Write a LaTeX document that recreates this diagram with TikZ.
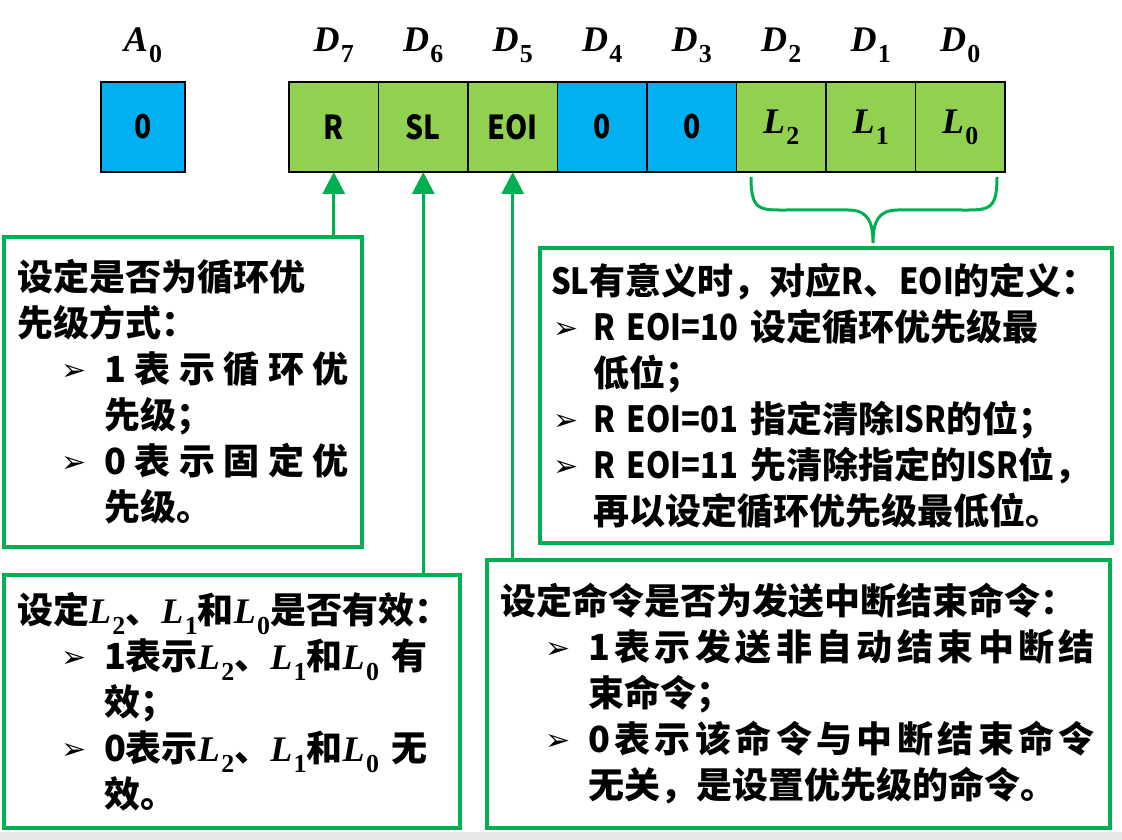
\documentclass[tikz,border=0pt]{standalone}
\usepackage{fontspec}
\usepackage{graphicx}
\usepackage{xcolor}
\setmainfont{Noto Sans CJK SC}
\newfontfamily\narfont{Noto Sans CJK SC}[FakeStretch=0.86]
\newfontfamily\bulfont{DejaVu Sans}
\newfontfamily\symfont{Liberation Serif}
\usetikzlibrary{positioning, arrows.meta}

\definecolor{regblue}{HTML}{00B0F0}
\definecolor{reggreen}{HTML}{92D050}
\definecolor{linegreen}{HTML}{00B050}

% bullet of a list line: indent, then room for the arrowhead
\newcommand{\bul}[2]{\hspace*{#1}\makebox[#2][l]{\raisebox{2pt}{\bulfont\fontsize{30}{30}\selectfont ➢}}}
\newcommand{\nar}[1]{{\narfont\bfseries #1}}
% bold italic bit name with subscript
\newcommand{\bv}[2]{{\symfont\bfseries\itshape #1\kern0.04em}{\symfont\bfseries\raisebox{-0.3em}{\scalebox{0.72}{#2}}}}

\begin{document}
\begin{tikzpicture}[x=1pt, y=1pt, node distance=89.5pt,
  cell/.style={draw, line width=1.2pt, minimum width=89.5pt, minimum height=90pt, inner sep=0pt, outer sep=0pt, font=\fontsize{33}{33}\selectfont\narfont\bfseries},
  lcell/.style={cell, font=\fontsize{36}{36}\selectfont},
  bitlabel/.style={font=\fontsize{36}{36}\selectfont},
  infobox/.style={draw=linegreen, line width=3.5pt, anchor=north west, align=left, outer sep=0pt, inner ysep=0pt, font=\fontsize{36}{46}\selectfont\bfseries},
  pointer/.style={-{Triangle[width=22pt, length=22pt]}, draw=linegreen, line width=3pt}]

	\useasboundingbox (0,0) rectangle (1122,840);
	\fill[gray!18] (0,0) rectangle (1122,8);

	% control word
	\node (a0) [cell, fill=regblue, minimum width=84pt] at (143,713) {0};
	\node (c7) [cell, fill=reggreen] at (333.75,713) {R};
	\node (c6) [cell, fill=reggreen, right of=c7] {SL};
	\node (c5) [cell, fill=reggreen, right of=c6] {EOI};
	\node (c4) [cell, fill=regblue, right of=c5] {0};
	\node (c3) [cell, fill=regblue, right of=c4] {0};
	\node (c2) [lcell, fill=reggreen, right of=c3] {\bv{L}{2}};
	\node (c1) [lcell, fill=reggreen, right of=c2] {\bv{L}{1}};
	\node (c0) [lcell, fill=reggreen, right of=c1] {\bv{L}{0}};

	\node (la0) [bitlabel, above of=a0, node distance=82pt] {\bv{A}{0}};
	\node (l7) [bitlabel, above of=c7, node distance=82pt] {\bv{D}{7}};
	\node (l6) [bitlabel, above of=c6, node distance=82pt] {\bv{D}{6}};
	\node (l5) [bitlabel, above of=c5, node distance=82pt] {\bv{D}{5}};
	\node (l4) [bitlabel, above of=c4, node distance=82pt] {\bv{D}{4}};
	\node (l3) [bitlabel, above of=c3, node distance=82pt] {\bv{D}{3}};
	\node (l2) [bitlabel, above of=c2, node distance=82pt] {\bv{D}{2}};
	\node (l1) [bitlabel, above of=c1, node distance=82pt] {\bv{D}{1}};
	\node (l0) [bitlabel, above of=c0, node distance=82pt] {\bv{D}{0}};

	% explanations
	\node (box1) [infobox, minimum width=358pt, minimum height=310pt, text width=332pt, inner xsep=13pt] at (4,603) {设定是否为循环优\\先级方式：\\\bul{44pt}{43pt}\makebox[245pt][s]{1\hfill 表\hfill 示\hfill 循\hfill 环\hfill 优}\\\hspace*{87pt}先级；\\\bul{44pt}{43pt}\makebox[245pt][s]{0\hfill 表\hfill 示\hfill 固\hfill 定\hfill 优}\\\hspace*{87pt}先级。};
	\node (box2) [infobox, minimum width=572pt, minimum height=295pt, text width=550pt, inner xsep=11pt] at (540,592) {\mbox{\nar{SL}有意义时，对应\nar{R}、\nar{EOI}的定义：}\\\bul{2pt}{40pt}\mbox{\nar{R EOI=10} 设定循环优先级最}\\\hspace*{42pt}低位；\\\bul{2pt}{40pt}\mbox{\nar{R EOI=01} 指定清除\nar{ISR}的位；}\\\bul{2pt}{40pt}\mbox{\nar{R EOI=11} 先清除指定的\nar{ISR}位，}\\\hspace*{42pt}再以设定循环优先级最低位。};
	\node (box3) [infobox, minimum width=456pt, minimum height=253pt, text width=430pt, inner xsep=13pt] at (4,265) {\mbox{设定\bv{L}{2}、\bv{L}{1}和\bv{L}{0}是否有效：}\\\bul{44pt}{43pt}\mbox{1表示\bv{L}{2}、\bv{L}{1}和\bv{L}{0} 有}\\\hspace*{87pt}效；\\\bul{44pt}{43pt}\mbox{0表示\bv{L}{2}、\bv{L}{1}和\bv{L}{0} 无}\\\hspace*{87pt}效。};
	\node (box4) [infobox, minimum width=623pt, minimum height=268pt, text width=597pt, inner xsep=13pt] at (487,280) {设定命令是否为发送中断结束命令：\\\bul{45pt}{43pt}\makebox[507pt][s]{1\hfill 表\hfill 示\hfill 发\hfill 送\hfill 非\hfill 自\hfill 动\hfill 结\hfill 束\hfill 中\hfill 断\hfill 结}\\\hspace*{88pt}束命令；\\\bul{45pt}{43pt}\makebox[507pt][s]{0\hfill 表\hfill 示\hfill 该\hfill 命\hfill 令\hfill 与\hfill 中\hfill 断\hfill 结\hfill 束\hfill 命\hfill 令}\\\hspace*{88pt}无关，是设置优先级的命令。};

	\draw[pointer] (c7.south |- box1.north) -- (c7.south);
	\draw[pointer] (c6.south |- box3.north) -- (c6.south);
	\draw[pointer] (c5.south |- box4.north) -- (c5.south);

	% brace under L2..L0
	\coordinate (brl) at (751,663);
	\coordinate (brr) at (997,663);
	\coordinate (brtip) at (873,597);
	\draw[linegreen, line width=3pt] (brl) .. controls (751,628) and (760,630) .. (790,630) -- (848,630) .. controls (868,630) and (873,618) .. (brtip) .. controls (873,618) and (878,630) .. (898,630) -- (958,630) .. controls (988,630) and (997,628) .. (brr);
\end{tikzpicture}
\end{document}
